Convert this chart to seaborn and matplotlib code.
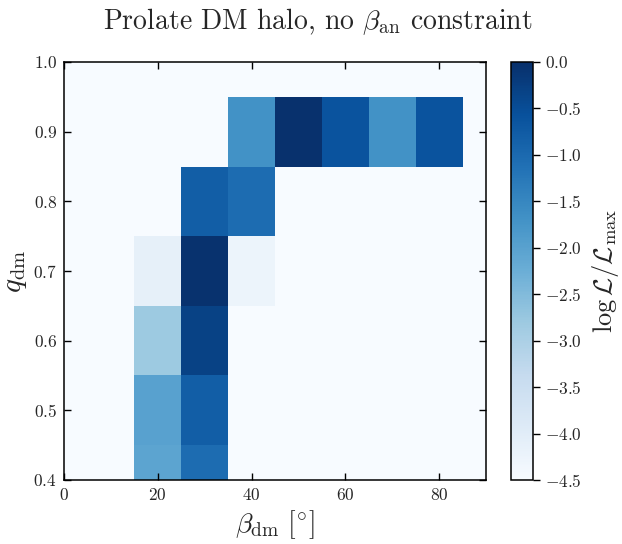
import numpy as np
import pandas as pd
import matplotlib
matplotlib.use("Agg")
import matplotlib.pyplot as plt
import seaborn as sns

sns.set_theme(style="white")
plt.rcParams.update({
    "font.family": "serif",
    "font.serif": ["cmr10"],
    "mathtext.fontset": "cm",
    "axes.formatter.use_mathtext": True,
    "axes.unicode_minus": True,
})

# Grid of the likelihood scan
beta_dm = [0, 10, 20, 30, 40, 50, 60, 70, 80, 90]          # degrees
q_dm = [0.4, 0.5, 0.6, 0.7, 0.8, 0.9, 1.0]

# log L / L_max, one row per q_dm value (background = -4.5)
logL_q040 = [-4.5, -4.5, -2.05, -1.05, -4.5, -4.5, -4.5, -4.5, -4.5, -4.5]
logL_q050 = [-4.5, -4.5, -2.00, -0.80, -4.5, -4.5, -4.5, -4.5, -4.5, -4.5]
logL_q060 = [-4.5, -4.5, -2.80, -0.30, -4.5, -4.5, -4.5, -4.5, -4.5, -4.5]
logL_q070 = [-4.5, -4.5, -4.10, -0.05, -4.25, -4.5, -4.5, -4.5, -4.5, -4.5]
logL_q080 = [-4.5, -4.5, -4.5, -0.80, -1.05, -4.5, -4.5, -4.5, -4.5, -4.5]
logL_q090 = [-4.5, -4.5, -4.5, -4.5, -1.70, -0.02, -0.60, -1.70, -0.60, -4.5]
logL_q100 = [-4.5] * 10

xticks = [0, 20, 40, 60, 80]
yticks = [0.4, 0.5, 0.6, 0.7, 0.8, 0.9, 1.0]
cbar_ticks = [0.0, -0.5, -1.0, -1.5, -2.0, -2.5, -3.0, -3.5, -4.0, -4.5]

grid = pd.DataFrame(
    [logL_q040, logL_q050, logL_q060, logL_q070, logL_q080, logL_q090, logL_q100],
    index=q_dm, columns=beta_dm,
)

W, H = 622, 544
fig = plt.figure(figsize=(W / 100, H / 100), dpi=100)
ax = fig.add_axes([64 / W, 1 - 480 / H, (486 - 64) / W, (480 - 62) / H])
cax = fig.add_axes([511 / W, 1 - 480 / H, (533 - 511) / W, (480 - 62) / H])

sns.heatmap(grid, ax=ax, cbar_ax=cax, cmap="Blues", vmin=-4.5, vmax=0.0,
            linewidths=0, xticklabels=False, yticklabels=False)

# heatmap cell i spans [i, i+1]; map data coordinates onto cell centres
def to_x(v):
    return (v - beta_dm[0]) / (beta_dm[1] - beta_dm[0]) + 0.5

def to_y(v):
    return (v - q_dm[0]) / (q_dm[1] - q_dm[0]) + 0.5

ax.set_xlim(to_x(0), to_x(90))
ax.set_ylim(to_y(0.4), to_y(1.0))
ax.set_xticks([to_x(v) for v in xticks])
ax.set_xticklabels([f"${v:d}$" for v in xticks])
ax.set_yticks([to_y(v) for v in yticks])
ax.set_yticklabels([f"${v:.1f}$" for v in yticks], rotation=0)

# ticks point inward, so draw them above the mesh
ax.set_axisbelow(False)
for s in ax.spines.values():
    s.set_visible(True)
    s.set_color("black")
    s.set_linewidth(1.1)
    s.set_zorder(5)
ax.tick_params(direction="in", length=5, width=1.0, color="black",
               top=True, right=True, bottom=True, left=True,
               labelsize=12.5, pad=5)

ax.set_xlabel(r"$\beta_{\rm dm}\ [^{\circ}]$", fontsize=20, labelpad=4)
ax.set_ylabel(r"$q_{\rm dm}$", fontsize=21, labelpad=3)

cb = ax.collections[0].colorbar
cb.outline.set_linewidth(1.1)
cb.outline.set_edgecolor("black")
cb.set_ticks(cbar_ticks)
cb.set_ticklabels([f"${v:.1f}$" for v in cbar_ticks])
cax.tick_params(direction="out", length=5, width=1.0, color="black",
                labelsize=12.5, right=True, left=False)
cb.set_label(r"$\log \mathcal{L}/\mathcal{L}_{\rm max}$", fontsize=19, labelpad=6)

fig.text(318 / W, 1 - 22 / H, r"Prolate DM halo, no $\beta_{\rm an}$ constraint",
         ha="center", va="center", fontsize=20)

fig.savefig("out.png", dpi=100)
